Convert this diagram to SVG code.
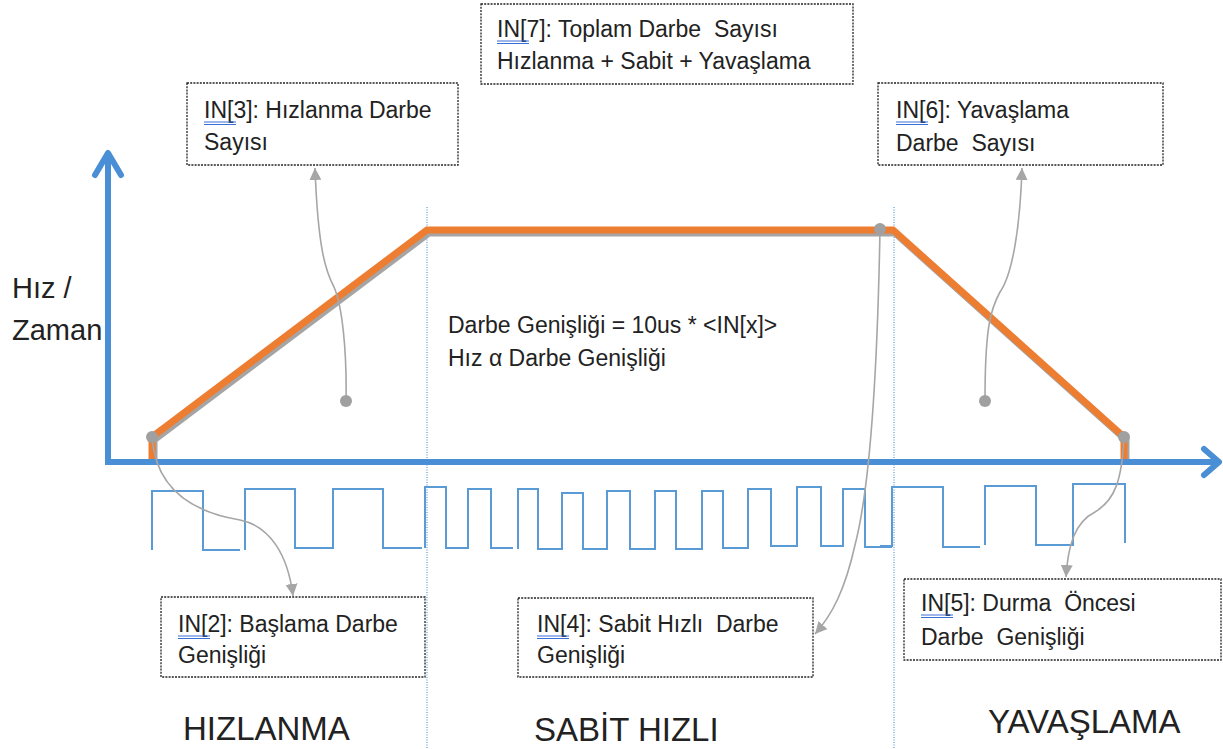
<svg xmlns="http://www.w3.org/2000/svg" width="1223" height="749" viewBox="0 0 1223 749">
<style>
  .box{fill:#fff;stroke:#222;stroke-width:1.3;stroke-dasharray:2 1.2}
  .t{font-family:"Liberation Sans",Arial,sans-serif;font-size:23px;fill:#222}
  .f{font-family:"Liberation Sans",Arial,sans-serif;font-size:23px;fill:#222}
  .big{font-family:"Liberation Sans",Arial,sans-serif;font-size:29px;fill:#222}
  .lab{font-family:"Liberation Sans",Arial,sans-serif;font-size:33px;fill:#222}
  .ul{stroke:#3b6fd8;stroke-width:1}
  .conn{fill:none;stroke:#a6a6a6;stroke-width:1.6}
  .dot{fill:#a0a0a0}
  .pulse{fill:none;stroke:#5b9bd5;stroke-width:2}
  .div{stroke:#5b9bd5;stroke-width:1.2;stroke-dasharray:1 1.5}
</style>
<defs>
  <marker id="ah" viewBox="0 0 10 10" refX="10" refY="5" markerWidth="12" markerHeight="12" markerUnits="userSpaceOnUse" orient="auto">
    <path d="M0,0 L10,5 L0,10 z" fill="#a6a6a6"/>
  </marker>
</defs>
<rect width="1223" height="749" fill="#fff"/>

<g id="dividers">
  <line class="div" x1="427" y1="207" x2="427" y2="749"/>
  <line class="div" x1="894" y1="207" x2="894" y2="749"/>
</g>

<g id="pulse-train">
  <path class="pulse" d="M152,550 V491 H203 V550 H240"/>
  <path class="pulse" d="M245,550 V489 H295 V548 H333 V489 H383 V548 H422"/>
  <path class="pulse" d="M425,548 V487 H446 V548 H468 V489 H491 V548 H513"/>
  <path class="pulse" d="M518,549 V489 H538 V549 H562 V493 H583 V549 H607 V491 H630 V549 H655 V491 H676 V549 H702 V491 H723 V548 H748 V489 H771 V546 H797 V487 H821 V546 H843 V489 H865 V547 H892"/>
  <path class="pulse" d="M880,546 H892 V487 H943 V547 H980"/>
  <path class="pulse" d="M985,545 V486 H1036 V545 H1073 V484 H1125 V543"/>
</g>

<g id="speed-profile">
  <path d="M154,465 V440 L429,233 H895 L1126,440 V465" fill="none" stroke="#a5a5a5" stroke-width="7" stroke-linejoin="miter"/>
  <path d="M152,462 V437 L427,230 H893 L1124,437 V462" fill="none" stroke="#ed7d31" stroke-width="7" stroke-linejoin="miter"/>
</g>

<g id="axes">
  <path d="M108,155 V462 H1217" fill="none" stroke="#4a8fd5" stroke-width="6"/>
  <polyline points="95,175 108,153 121,175" fill="none" stroke="#4a8fd5" stroke-width="6" stroke-linecap="round" stroke-linejoin="round"/>
  <polyline points="1204,449 1219,462 1204,475" fill="none" stroke="#4a8fd5" stroke-width="6" stroke-linecap="round" stroke-linejoin="round"/>
  <text class="big" x="12" y="298">Hız /</text>
  <text class="big" x="12" y="340">Zaman</text>
</g>

<g id="formula">
  <text class="f" x="448" y="333">Darbe Genişliği = 10us * &lt;IN[x]&gt;</text>
  <text class="f" x="448" y="366">Hız α Darbe Genişliği</text>
</g>

<g id="connectors">
  <path class="conn" d="M346,401 C347,350 342,305 334,287 C326,272 318,250 315,168" marker-end="url(#ah)"/>
  <path class="conn" d="M985,401 C985,330 990,310 1000,292 C1012,275 1020,230 1022,168" marker-end="url(#ah)"/>
  <path class="conn" d="M152,437 C155,480 180,510 240,520 C270,526 288,555 293,596" marker-end="url(#ah)"/>
  <path class="conn" d="M880,229 C878,340 872,480 855,545 C845,590 832,615 815,634" marker-end="url(#ah)"/>
  <path class="conn" d="M1124,437 C1122,480 1115,500 1095,512 C1075,522 1068,545 1066,577" marker-end="url(#ah)"/>
  <circle class="dot" cx="152" cy="437" r="6"/>
  <circle class="dot" cx="346" cy="401" r="6"/>
  <circle class="dot" cx="880" cy="229" r="6"/>
  <circle class="dot" cx="985" cy="401" r="6"/>
  <circle class="dot" cx="1124" cy="437" r="6"/>
</g>

<g id="in7">
  <rect class="box" x="481" y="4" width="372" height="80"/>
  <text class="t" x="497" y="37" xml:space="preserve">IN[7]: Toplam Darbe  Sayısı</text>
  <text class="t" x="497" y="69">Hızlanma + Sabit + Yavaşlama</text>
  <line class="ul" x1="497" y1="41" x2="529" y2="41"/><line class="ul" x1="497" y1="43.5" x2="529" y2="43.5"/>
</g>

<g id="in3">
  <rect class="box" x="187" y="83" width="271" height="82"/>
  <text class="t" x="204" y="118">IN[3]: Hızlanma Darbe</text>
  <text class="t" x="204" y="150">Sayısı</text>
  <line class="ul" x1="204" y1="122" x2="236" y2="122"/><line class="ul" x1="204" y1="124.5" x2="236" y2="124.5"/>
</g>

<g id="in6">
  <rect class="box" x="878" y="83" width="285" height="82"/>
  <text class="t" x="896" y="118">IN[6]: Yavaşlama</text>
  <text class="t" x="896" y="151" xml:space="preserve">Darbe  Sayısı</text>
  <line class="ul" x1="896" y1="122" x2="928" y2="122"/><line class="ul" x1="896" y1="124.5" x2="928" y2="124.5"/>
</g>

<g id="in2">
  <rect class="box" x="161" y="597" width="264" height="80"/>
  <text class="t" x="178" y="632">IN[2]: Başlama Darbe</text>
  <text class="t" x="178" y="663">Genişliği</text>
  <line class="ul" x1="178" y1="636" x2="210" y2="636"/><line class="ul" x1="178" y1="638.5" x2="210" y2="638.5"/>
</g>

<g id="in4">
  <rect class="box" x="518" y="598" width="295" height="79"/>
  <text class="t" x="537" y="632" xml:space="preserve">IN[4]: Sabit Hızlı  Darbe</text>
  <text class="t" x="537" y="663">Genişliği</text>
  <line class="ul" x1="537" y1="636" x2="569" y2="636"/><line class="ul" x1="537" y1="638.5" x2="569" y2="638.5"/>
</g>

<g id="in5">
  <rect class="box" x="904" y="579" width="317" height="81"/>
  <text class="t" x="921" y="611" xml:space="preserve">IN[5]: Durma  Öncesi</text>
  <text class="t" x="921" y="645" xml:space="preserve">Darbe  Genişliği</text>
  <line class="ul" x1="921" y1="615" x2="953" y2="615"/><line class="ul" x1="921" y1="617.5" x2="953" y2="617.5"/>
</g>

<g id="phase-labels">
  <text class="lab" x="183" y="740">HIZLANMA</text>
  <text class="lab" x="534" y="741">SABİT HIZLI</text>
  <text class="lab" x="988" y="733">YAVAŞLAMA</text>
</g>
</svg>
